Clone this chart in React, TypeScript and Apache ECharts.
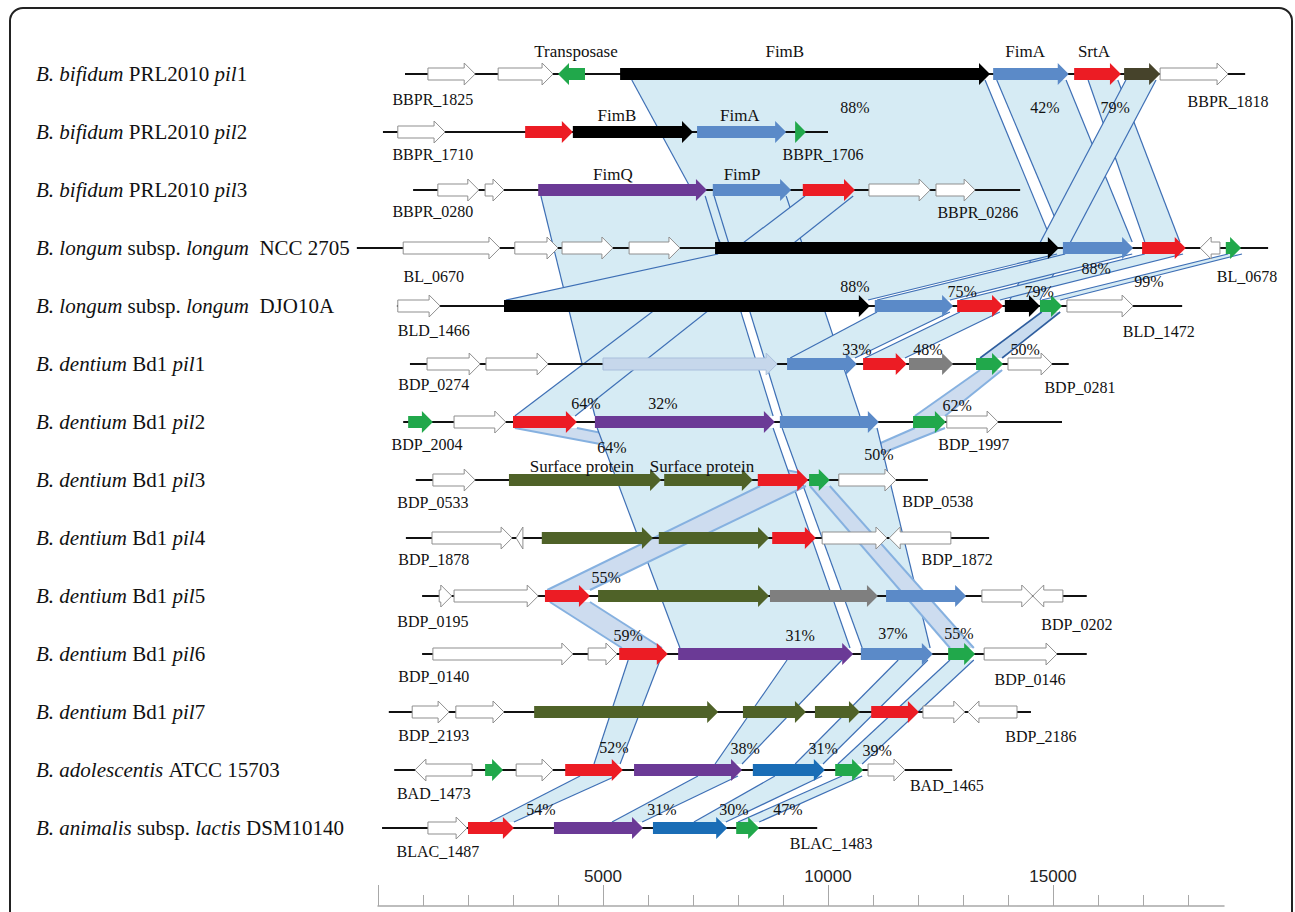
import React, { useEffect, useRef } from 'react';
import * as echarts from 'echarts';

const SERIF = '"Liberation Serif", "Times New Roman", serif';
const SANS = '"Liberation Sans", Arial, sans-serif';

// Genome / cluster names (text between * is italic)
const rowLabels = [
  '*B. bifidum* PRL2010 *pil*1',
  '*B. bifidum* PRL2010 *pil*2',
  '*B. bifidum* PRL2010 *pil*3',
  '*B. longum* subsp. *longum*  NCC 2705',
  '*B. longum* subsp. *longum*  DJO10A',
  '*B. dentium* Bd1 *pil*1',
  '*B. dentium* Bd1 *pil*2',
  '*B. dentium* Bd1 *pil*3',
  '*B. dentium* Bd1 *pil*4',
  '*B. dentium* Bd1 *pil*5',
  '*B. dentium* Bd1 *pil*6',
  '*B. dentium* Bd1 *pil*7',
  '*B. adolescentis* ATCC 15703',
  '*B. animalis* subsp. *lactis* DSM10140',
];

// [row, start bp, end bp]
const tracks = [
  [0, 600, 19270],
  [1, 110, 10000],
  [2, 780, 14270],
  [3, -470, 19780],
  [4, 420, 17870],
  [5, 710, 15350],
  [6, 560, 15200],
  [7, 840, 12220],
  [8, 620, 13580],
  [9, 980, 15750],
  [10, 980, 15750],
  [11, 240, 14510],
  [12, 360, 12760],
  [13, 90, 9760],
];

// [row, start bp, end bp, strand, kind]
const genes: [number, number, number, number, string][] = [
  [0, 1110, 2160, 1, 'w'], [0, 2670, 3890, 1, 'w'], [0, 4000, 4600, -1, 'g'], [0, 5380, 13600, 1, 'k'],
  [0, 13670, 15350, 1, 'b'], [0, 15470, 16510, 1, 'r'], [0, 16580, 17380, 1, 'd'], [0, 17380, 18890, 1, 'w'],
  [1, 440, 1490, 1, 'w'], [1, 3270, 4330, 1, 'r'], [1, 4330, 7000, 1, 'k'], [1, 7090, 9070, 1, 'b'], [1, 9270, 9510, 1, 'g'],
  [2, 1330, 2240, 1, 'w'], [2, 2380, 2800, 1, 'w'], [2, 3560, 7310, 1, 'p'], [2, 7440, 9180, 1, 'b'],
  [2, 9440, 10600, 1, 'r'], [2, 10910, 12270, 1, 'w'], [2, 12400, 13270, 1, 'w'],
  [3, 560, 2710, 1, 'w'], [3, 3040, 4000, 1, 'w'], [3, 4090, 5220, 1, 'w'], [3, 5580, 6710, 1, 'w'],
  [3, 7490, 15130, 1, 'k'], [3, 15220, 16780, 1, 'b'], [3, 16980, 17950, 1, 'r'], [3, 18270, 18710, -1, 'w'], [3, 18840, 19180, 1, 'g'],
  [4, 440, 1380, 1, 'w'], [4, 2800, 10930, 1, 'k'], [4, 11040, 12780, 1, 'b'], [4, 12870, 13890, 1, 'r'],
  [4, 13930, 14710, 1, 'k'], [4, 14710, 15200, 1, 'g'], [4, 15310, 16780, 1, 'w'],
  [5, 1090, 2270, 1, 'w'], [5, 2400, 3780, 1, 'w'], [5, 5000, 8870, 1, 'l'], [5, 9090, 10640, 1, 'b'],
  [5, 10780, 11750, 1, 'r'], [5, 11800, 12780, 1, 'y'], [5, 13290, 13890, 1, 'g'], [5, 14000, 14980, 1, 'w'],
  [6, 670, 1220, 1, 'g'], [6, 1690, 2840, 1, 'w'], [6, 3000, 4420, 1, 'r'], [6, 4820, 8820, 1, 'p'],
  [6, 8930, 11130, 1, 'b'], [6, 11890, 12620, 1, 'g'], [6, 12640, 13780, 1, 'w'],
  [7, 1220, 2160, 1, 'w'], [7, 2910, 6290, 1, 'o'], [7, 6360, 8330, 1, 'o'], [7, 8440, 9560, 1, 'r'],
  [7, 9580, 10040, 1, 'g'], [7, 10240, 11510, 1, 'w'],
  [8, 1200, 2980, 1, 'w'], [8, 3070, 3220, -1, 'w'], [8, 3640, 6110, 1, 'o'], [8, 6240, 8690, 1, 'o'],
  [8, 8760, 9730, 1, 'r'], [8, 9870, 11310, 1, 'w'], [8, 11360, 12730, -1, 'w'],
  [9, 1360, 1640, 1, 'w'], [9, 1690, 3560, 1, 'w'], [9, 3710, 4710, 1, 'r'], [9, 4890, 8690, 1, 'o'],
  [9, 8710, 11110, 1, 'y'], [9, 11290, 13070, 1, 'b'], [9, 13420, 14550, 1, 'w'], [9, 14550, 15220, -1, 'w'],
  [10, 1220, 4330, 1, 'w'], [10, 4670, 5310, 1, 'w'], [10, 5360, 6440, 1, 'r'], [10, 6670, 10560, 1, 'p'],
  [10, 10730, 12330, 1, 'b'], [10, 12670, 13270, 1, 'g'], [10, 13470, 15090, 1, 'w'],
  [11, 760, 1580, 1, 'w'], [11, 1730, 2800, 1, 'w'], [11, 3470, 7560, 1, 'o'], [11, 8110, 9510, 1, 'o'],
  [11, 9710, 10710, 1, 'o'], [11, 10960, 12020, 1, 'r'], [11, 12110, 13040, 1, 'w'], [11, 13110, 14200, -1, 'w'],
  [12, 820, 2090, -1, 'w'], [12, 2380, 2780, 1, 'g'], [12, 3070, 3890, 1, 'w'], [12, 4160, 5440, 1, 'r'],
  [12, 5690, 8090, 1, 'p'], [12, 8330, 9930, 1, 'n'], [12, 10160, 10780, 1, 'g'], [12, 10890, 11710, 1, 'w'],
  [13, 1110, 1980, 1, 'w'], [13, 2000, 3020, 1, 'r'], [13, 3910, 5890, 1, 'p'], [13, 6110, 7760, 1, 'n'], [13, 7960, 8470, 1, 'g'],
];

// Homology links: [upper row, start, end, lower row, start, end, style]
const links: [number, number, number, number, number, number, string][] = [
  [0, 5640, 13490, 3, 7600, 14980, 'b'],
  [0, 13750, 15290, 3, 15270, 16760, 'b'],
  [0, 15780, 16440, 3, 17040, 17820, 'b'],
  [0, 16620, 17290, 4, 14040, 14710, 'b'],
  [2, 3620, 7270, 6, 4820, 8780, 'b'],
  [2, 7470, 9070, 6, 8980, 10710, 'b'],
  [2, 9490, 10560, 6, 3040, 4380, 'b'],
  [3, 7560, 15090, 4, 2840, 10890, 'b'],
  [3, 15270, 16760, 4, 11090, 12710, 'b'],
  [3, 17040, 17890, 4, 12930, 13820, 'b'],
  [3, 18890, 19200, 4, 14750, 15160, 'b'],
  [4, 11090, 12710, 5, 9160, 10600, 'b'],
  [4, 12930, 13820, 5, 10820, 11710, 'b'],
  [4, 14750, 15160, 5, 13380, 13870, 'd'],
  [5, 13380, 13870, 6, 11930, 12600, 'l'],
  [6, 11930, 12600, 7, 9600, 10040, 'l'],
  [6, 3040, 4420, 7, 8490, 9510, 'l'],
  [6, 4870, 8780, 10, 6710, 10490, 'b'],
  [6, 8980, 11090, 10, 10760, 12270, 'b'],
  [7, 9600, 10040, 10, 12710, 13240, 'l'],
  [7, 8490, 9510, 9, 3760, 4710, 'l'],
  [9, 3820, 4710, 10, 5420, 6310, 'l'],
  [10, 5560, 6270, 12, 4800, 5380, 'b'],
  [10, 9090, 10310, 12, 7490, 8090, 'b'],
  [10, 11560, 12220, 12, 9270, 9890, 'b'],
  [10, 12710, 13240, 12, 10220, 10760, 'b'],
  [12, 4490, 5290, 13, 2490, 3020, 'b'],
  [12, 7110, 8000, 13, 5200, 5870, 'b'],
  [12, 8820, 9870, 13, 7020, 7730, 'b'],
  [12, 10310, 10760, 13, 8000, 8470, 'b'],
];

// Identity labels: [row, bp, dy, text]
const pctLabels: [number, number, number, string][] = [
  [0, 10600, 33, '88%'], [0, 14820, 33, '42%'], [0, 16380, 33, '79%'],
  [4, 10600, -20, '88%'], [4, 12980, -15, '75%'], [4, 14690, -15, '79%'],
  [3, 15960, 20, '88%'], [3, 17130, 33, '99%'],
  [5, 10640, -15, '33%'], [5, 12220, -15, '48%'], [5, 14380, -15, '50%'],
  [6, 4620, -19, '64%'], [6, 6330, -19, '32%'], [6, 12870, -17, '62%'], [6, 5200, 25, '64%'],
  [7, 11130, -26, '50%'],
  [9, 5070, -19, '55%'],
  [10, 5560, -19, '59%'], [10, 9380, -19, '31%'], [10, 11440, -21, '37%'], [10, 12910, -21, '55%'],
  [12, 5240, -23, '52%'], [12, 8160, -22, '38%'], [12, 9890, -22, '31%'], [12, 11090, -20, '39%'],
  [13, 3620, -19, '54%'], [13, 6310, -19, '31%'], [13, 7910, -19, '30%'], [13, 9110, -19, '47%'],
];

// Locus tags: [row, bp, dy, text]
const locusLabels: [number, number, number, string][] = [
  [0, 1220, 25, 'BBPR_1825'], [0, 18890, 27, 'BBPR_1818'],
  [1, 1220, 22, 'BBPR_1710'], [1, 9890, 22, 'BBPR_1706'],
  [2, 1220, 21, 'BBPR_0280'], [2, 13330, 22, 'BBPR_0286'],
  [3, 1240, 28, 'BL_0670'], [3, 19310, 28, 'BL_0678'],
  [4, 1240, 24, 'BLD_1466'], [4, 17350, 25, 'BLD_1472'],
  [5, 1240, 20, 'BDP_0274'], [5, 15600, 23, 'BDP_0281'],
  [6, 1090, 22, 'BDP_2004'], [6, 13240, 22, 'BDP_1997'],
  [7, 1220, 22, 'BDP_0533'], [7, 12440, 21, 'BDP_0538'],
  [8, 1240, 21, 'BDP_1878'], [8, 12870, 21, 'BDP_1872'],
  [9, 1220, 25, 'BDP_0195'], [9, 15530, 28, 'BDP_0202'],
  [10, 1240, 22, 'BDP_0140'], [10, 14490, 25, 'BDP_0146'],
  [11, 1240, 23, 'BDP_2193'], [11, 14730, 24, 'BDP_2186'],
  [12, 1240, 23, 'BAD_1473'], [12, 12640, 15, 'BAD_1465'],
  [13, 1330, 23, 'BLAC_1487'], [13, 10070, 15, 'BLAC_1483'],
];

// Protein names: [row, bp, dy, text]
const proteinLabels: [number, number, number, string][] = [
  [0, 4400, -23, 'Transposase'], [0, 9040, -23, 'FimB'], [0, 14380, -23, 'FimA'], [0, 15910, -23, 'SrtA'],
  [1, 5310, -17, 'FimB'], [1, 8040, -17, 'FimA'],
  [2, 5220, -16, 'FimQ'], [2, 8090, -16, 'FimP'],
  [7, 4530, -14, 'Surface protein'], [7, 7200, -14, 'Surface protein'],
];

// Scale bar
const minorTicks = [0, 1000, 2000, 3000, 4000, 5000, 6000, 7000, 8000, 9000, 10000, 11000, 12000, 13000, 14000, 15000, 16000, 17000, 18000];
const majorTicks = [0, 5000, 10000, 15000];
const tickLabels = [5000, 10000, 15000];

const geneColors: Record<string, { fill: string; stroke?: string }> = {
  w: { fill: '#ffffff', stroke: '#8f8f8f' },
  k: { fill: '#000000' },
  b: { fill: '#5b8ac8' },
  r: { fill: '#ec1c24' },
  g: { fill: '#21a84b' },
  p: { fill: '#6b3a96' },
  o: { fill: '#4f6228' },
  d: { fill: '#46432b' },
  y: { fill: '#7f7f7f' },
  l: { fill: '#c6d7eb', stroke: '#a9bfdc' },
  n: { fill: '#1a6db6' },
};

const linkStyles: Record<string, { fill: string; stroke: string; width: number }> = {
  b: { fill: '#d6ebf4', stroke: '#3e6fb5', width: 1.2 },
  d: { fill: '#c9dcef', stroke: '#2f5e9e', width: 1.6 },
  l: { fill: '#cddcef', stroke: '#86b1e0', width: 2 },
};

function toRich(s: string): string {
  const parts = s.split('*');
  const segs: { t: string; it: boolean }[] = [];
  parts.forEach((p, i) => {
    if (!p) return;
    let t = p;
    const m = t.match(/^\s+/);
    if (m && segs.length) {
      segs[segs.length - 1].t += m[0];
      t = t.slice(m[0].length);
    }
    if (t) segs.push({ t, it: i % 2 === 1 });
  });
  return segs.map((sg) => `{${sg.it ? 'i' : 'n'}|${sg.t}}`).join('');
}

const allLabels = [
  ...pctLabels.map((l) => ({ l, size: 16 })),
  ...locusLabels.map((l) => ({ l, size: 16 })),
  ...proteinLabels.map((l) => ({ l, size: 17 })),
];

export default function App() {
  const ref = useRef<HTMLDivElement>(null);
  useEffect(() => {
    document.body.style.margin = '0';
    const chart = echarts.init(ref.current!, undefined, { renderer: 'svg' });
    const option: any = {
      animation: false,
      backgroundColor: '#ffffff',
      graphic: [
        {
          type: 'rect',
          shape: { x: 10, y: 8, width: 1282, height: 940, r: 13 },
          style: { fill: 'none', stroke: '#222', lineWidth: 2 },
          z: 100,
          silent: true,
        },
      ],
      grid: [
        { left: 333, width: 945, top: 45, height: 812 },
        { left: 378, width: 846, top: 880, height: 26 },
      ],
      xAxis: [
        { gridIndex: 0, type: 'value', min: -1000, max: 20000, show: false },
        {
          gridIndex: 1, type: 'value', min: 0, max: 18800, position: 'bottom',
          axisLine: { onZero: false, lineStyle: { color: '#a8a8a8', width: 1.5 } },
          axisTick: { inside: true, length: 11, customValues: minorTicks, lineStyle: { color: '#a8a8a8', width: 1 } },
          axisLabel: { show: false },
          splitLine: { show: false },
        },
        {
          gridIndex: 1, type: 'value', min: 0, max: 18800, position: 'bottom',
          axisLine: { show: false, onZero: false },
          axisTick: { inside: true, length: 21, customValues: majorTicks, lineStyle: { color: '#a8a8a8', width: 1 } },
          axisLabel: {
            inside: true, customValues: tickLabels, margin: 21, fontSize: 17, fontFamily: SANS, color: '#222',
            formatter: (v: number) => String(v),
          },
          splitLine: { show: false },
        },
      ],
      yAxis: [
        {
          gridIndex: 0, type: 'category', inverse: true, data: rowLabels,
          axisLine: { show: false }, axisTick: { show: false }, splitLine: { show: false },
          axisLabel: {
            interval: 0, align: 'left', margin: 297, fontSize: 21, fontFamily: SERIF, color: '#111',
            formatter: (v: string) => toRich(v),
            rich: {
              i: { fontStyle: 'italic', fontSize: 21, fontFamily: SERIF, color: '#111' },
              n: { fontSize: 21, fontFamily: SERIF, color: '#111' },
            },
          },
        },
        { gridIndex: 1, type: 'value', min: 0, max: 1, show: false },
      ],
      series: [
        {
          type: 'custom', name: 'links', xAxisIndex: 0, yAxisIndex: 0, clip: false, z: 1,
          data: links.map((l) => [l[0], l[1], l[2], l[3], l[4], l[5]]),
          encode: { x: [1, 2, 4, 5], y: [0, 3] },
          renderItem: (params: any, api: any) => {
            const l = links[params.dataIndex];
            const st = linkStyles[l[6]];
            const a1 = api.coord([l[1], l[0]]);
            const a2 = api.coord([l[2], l[0]]);
            const b1 = api.coord([l[4], l[3]]);
            const b2 = api.coord([l[5], l[3]]);
            const ya = a1[1] + 6;
            const yb = b1[1] - 6;
            return {
              type: 'group',
              children: [
                { type: 'polygon', shape: { points: [[a1[0], ya], [a2[0], ya], [b2[0], yb], [b1[0], yb]] }, style: { fill: st.fill } },
                { type: 'line', shape: { x1: a1[0], y1: ya, x2: b1[0], y2: yb }, style: { stroke: st.stroke, lineWidth: st.width } },
                { type: 'line', shape: { x1: a2[0], y1: ya, x2: b2[0], y2: yb }, style: { stroke: st.stroke, lineWidth: st.width } },
              ],
            };
          },
        },
        {
          type: 'custom', name: 'tracks', xAxisIndex: 0, yAxisIndex: 0, clip: false, z: 2,
          data: tracks,
          encode: { x: [1, 2], y: 0 },
          renderItem: (params: any, api: any) => {
            const t = tracks[params.dataIndex];
            const a = api.coord([t[1], t[0]]);
            const b = api.coord([t[2], t[0]]);
            return { type: 'line', shape: { x1: a[0], y1: a[1], x2: b[0], y2: b[1] }, style: { stroke: '#111', lineWidth: 2 } };
          },
        },
        {
          type: 'custom', name: 'genes', xAxisIndex: 0, yAxisIndex: 0, clip: false, z: 3,
          data: genes.map((g) => [g[0], g[1], g[2]]),
          encode: { x: [1, 2], y: 0 },
          renderItem: (params: any, api: any) => {
            const g = genes[params.dataIndex];
            const a = api.coord([g[1], g[0]]);
            const b = api.coord([g[2], g[0]]);
            const x1 = a[0], x2 = b[0], y = a[1];
            const h = Math.min(11, x2 - x1);
            const bh = 6, hh = 11;
            const pts = g[3] > 0
              ? [[x1, y - bh], [x2 - h, y - bh], [x2 - h, y - hh], [x2, y], [x2 - h, y + hh], [x2 - h, y + bh], [x1, y + bh]]
              : [[x2, y - bh], [x1 + h, y - bh], [x1 + h, y - hh], [x1, y], [x1 + h, y + hh], [x1 + h, y + bh], [x2, y + bh]];
            const c = geneColors[g[4]];
            return {
              type: 'polygon', shape: { points: pts },
              style: { fill: c.fill, stroke: c.stroke || null, lineWidth: c.stroke ? 1 : 0 },
            };
          },
        },
        {
          type: 'custom', name: 'labels', xAxisIndex: 0, yAxisIndex: 0, clip: false, z: 4,
          data: allLabels.map((d) => [d.l[0], d.l[1]]),
          encode: { x: 1, y: 0 },
          renderItem: (params: any, api: any) => {
            const d = allLabels[params.dataIndex];
            const p = api.coord([d.l[1], d.l[0]]);
            return {
              type: 'text', x: p[0], y: p[1] + d.l[2],
              style: {
                text: d.l[3], fill: '#111', fontSize: d.size, fontFamily: SERIF,
                align: 'center', verticalAlign: 'middle',
              },
            };
          },
        },
      ],
    };
    chart.setOption(option);
    return () => chart.dispose();
  }, []);
  return <div ref={ref} style={{ width: 1295, height: 912 }} />;
}
